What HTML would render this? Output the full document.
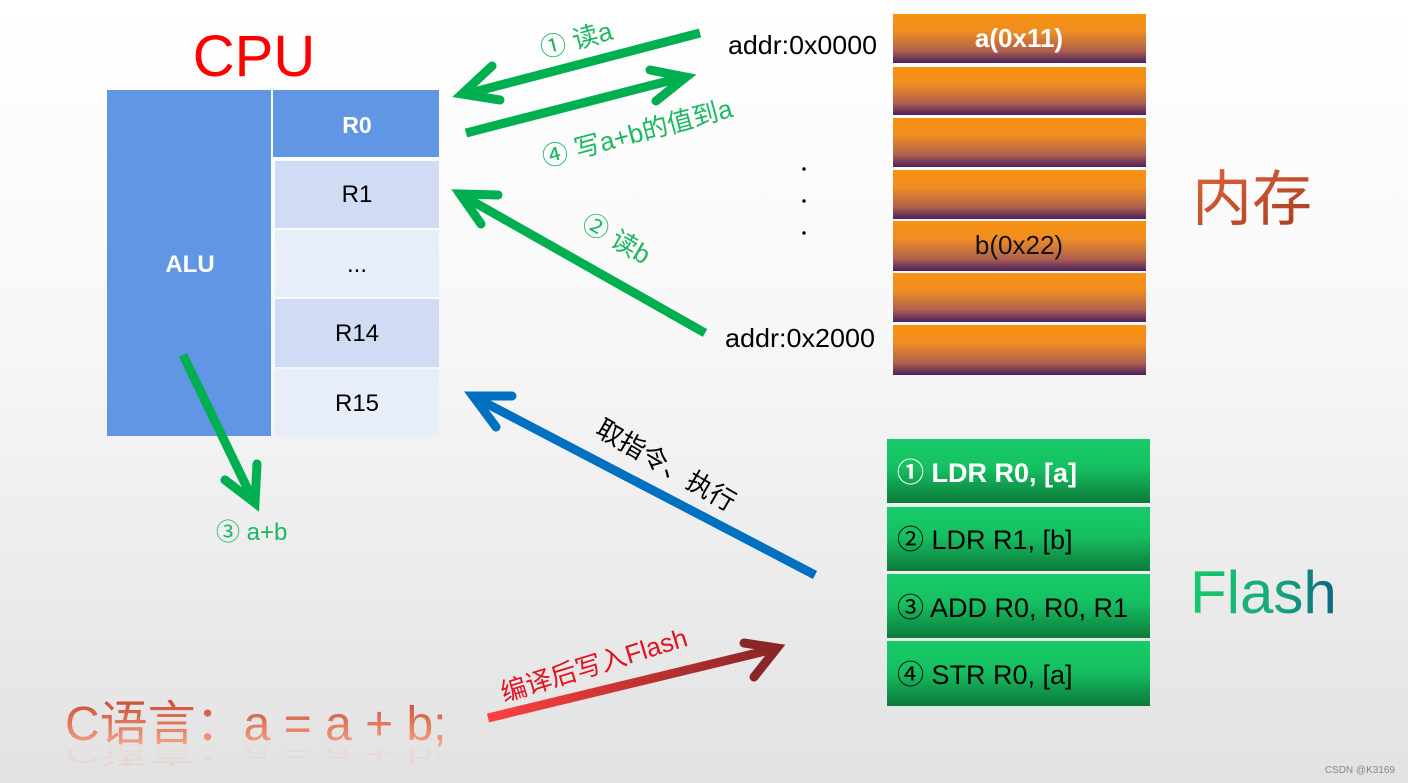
<!DOCTYPE html>
<html><head><meta charset="utf-8"><style>
html,body{margin:0;padding:0}
body{width:1408px;height:783px;overflow:hidden;background:linear-gradient(#ffffff 0%,#f8f8f8 40%,#e2e2e2 100%);font-family:"Liberation Sans","Noto Sans CJK SC",sans-serif}
svg{position:absolute;left:0;top:0}
</style></head><body>
<svg width="1408" height="783" viewBox="0 0 1408 783" xmlns="http://www.w3.org/2000/svg" font-family="Liberation Sans, Noto Sans CJK SC, sans-serif">
<defs>
<linearGradient id="mem" x1="0" y1="0" x2="0" y2="1"><stop offset="0" stop-color="#f8920f"/><stop offset="0.35" stop-color="#f08d22"/><stop offset="0.75" stop-color="#b0614e"/><stop offset="1" stop-color="#4a215e"/></linearGradient>
<linearGradient id="fl" x1="0" y1="0" x2="0" y2="1"><stop offset="0" stop-color="#17cc68"/><stop offset="0.45" stop-color="#16c062"/><stop offset="1" stop-color="#0b7a3a"/></linearGradient>
<linearGradient id="flt" x1="0" y1="0" x2="1" y2="0"><stop offset="0" stop-color="#18c86a"/><stop offset="0.6" stop-color="#16a87a"/><stop offset="1" stop-color="#0a6480"/></linearGradient>
<linearGradient id="nc" x1="0" y1="0" x2="1" y2="1"><stop offset="0" stop-color="#e0673e"/><stop offset="1" stop-color="#a8381e"/></linearGradient>
<linearGradient id="rd" x1="0" y1="0" x2="1" y2="0"><stop offset="0" stop-color="#ff4040"/><stop offset="1" stop-color="#8a2626"/></linearGradient>
<linearGradient id="ct" x1="0" y1="0" x2="0" y2="1"><stop offset="0" stop-color="#c84a30"/><stop offset="1" stop-color="#fbab90"/></linearGradient>
<linearGradient id="ctr" x1="0" y1="0" x2="0" y2="1"><stop offset="0" stop-color="#f5b8a5" stop-opacity="0.6"/><stop offset="1" stop-color="#f5b8a5" stop-opacity="0"/></linearGradient>
</defs>

<text x="254" y="76" font-size="58" fill="#ff0000" text-anchor="middle">CPU</text>
<rect x="107" y="90" width="164" height="346" fill="#6196e4"/>
<rect x="273" y="90" width="166" height="67" fill="#6196e4"/>
<rect x="275" y="161" width="164" height="67" fill="#d0dcf3"/>
<rect x="275" y="230" width="164" height="67" fill="#e8eef9"/>
<rect x="275" y="299" width="164" height="68" fill="#d0dcf3"/>
<rect x="275" y="369" width="164" height="68" fill="#e8eef9"/>
<text x="190" y="272" font-size="24" font-weight="bold" fill="#fff" text-anchor="middle">ALU</text>
<text x="357" y="133" font-size="23" font-weight="bold" fill="#fff" text-anchor="middle">R0</text>
<g font-size="24" fill="#000" text-anchor="middle">
<text x="357" y="202">R1</text><text x="357" y="272">...</text><text x="357" y="341">R14</text><text x="357" y="411">R15</text></g>

<g fill="url(#mem)">
<rect x="893" y="14" width="253" height="49"/><rect x="893" y="67" width="253" height="48"/><rect x="893" y="118" width="253" height="49"/><rect x="893" y="170" width="253" height="49"/><rect x="893" y="221" width="253" height="50"/><rect x="893" y="273" width="253" height="49"/><rect x="893" y="325" width="253" height="50"/></g>
<text x="1019" y="47" font-size="26" font-weight="bold" fill="#fff" text-anchor="middle">a(0x11)</text>
<text x="1019" y="254" font-size="26" fill="#111" text-anchor="middle">b(0x22)</text>
<text x="728" y="54" font-size="26" fill="#000" textLength="149" lengthAdjust="spacingAndGlyphs">addr:0x0000</text>
<text x="725" y="347" font-size="26" fill="#000" textLength="150" lengthAdjust="spacingAndGlyphs">addr:0x2000</text>
<g fill="#000"><circle cx="804" cy="169" r="1.7"/><circle cx="804" cy="201" r="1.7"/><circle cx="804" cy="233" r="1.7"/></g>
<text x="1192" y="220" font-size="60" fill="url(#nc)">内存</text>

<g font-size="27">
<rect x="887" y="439" width="263" height="64" fill="url(#fl)"/><rect x="887" y="507" width="263" height="64" fill="url(#fl)"/><rect x="887" y="574" width="263" height="64" fill="url(#fl)"/><rect x="887" y="641" width="263" height="65" fill="url(#fl)"/>
<text x="897" y="482" fill="#fff" font-weight="bold">① LDR R0, [a]</text>
<text x="897" y="549" fill="#000">② LDR R1, [b]</text>
<text x="897" y="617" fill="#000">③ ADD R0, R0, R1</text>
<text x="897" y="684" fill="#000">④ STR R0, [a]</text>
</g>
<text x="1190" y="613" font-size="60" fill="url(#flt)">Flash</text>

<g fill="none" stroke="#00b050" stroke-width="9" stroke-linecap="round" stroke-linejoin="miter">
<line x1="700" y1="33" x2="470" y2="93" stroke-linecap="butt"/>
<polyline points="492,66 462,94 500,100"/>
<line x1="466" y1="133" x2="680" y2="78" stroke-linecap="butt"/>
<polyline points="650,70 686,77 656,101"/>
<line x1="705" y1="333" x2="465" y2="197" stroke-linecap="butt"/>
<polyline points="498,195 460,194 481,224"/>
<line x1="183" y1="355" x2="252" y2="498" stroke-linecap="butt"/>
<polyline points="225,480 255,503 257,464"/>
</g>
<g fill="none" stroke="#0070c0" stroke-width="9" stroke-linecap="round">
<line x1="815" y1="575" x2="478" y2="399" stroke-linecap="butt"/>
<polyline points="512,396 473,396 496,427"/>
</g>
<g fill="none" stroke="url(#rd)" stroke-width="9" stroke-linecap="round">
<line x1="488" y1="718" x2="774" y2="649" stroke-linecap="butt"/>
</g>
<polyline points="744,643 777,648 754,677" fill="none" stroke="#8a2626" stroke-width="9" stroke-linecap="round"/>

<g fill="#1ab860" font-size="26">
<text transform="translate(543,58) rotate(-15)">① 读a</text>
<text transform="translate(545,167) rotate(-15)">④ 写a+b的值到a</text>
<text transform="translate(580,228) rotate(30)">② 读b</text>
<text x="216" y="540" font-size="24">③ a+b</text>
</g>
<text transform="translate(594,434) rotate(30)" font-size="26" fill="#000">取指令、执行</text>
<text transform="translate(504,702) rotate(-17)" font-size="26" fill="#e0141e">编译后写入Flash</text>

<text x="65" y="740" font-size="48" fill="url(#ct)">C语言：a = a + b;</text>
<text transform="translate(65,746) scale(1,-0.5)" font-size="48" fill="url(#ctr)" opacity="0.6">C语言：a = a + b;</text>
<text x="1395" y="773" font-size="10" fill="#888" text-anchor="end">CSDN @K3169</text>
</svg>
</body></html>
